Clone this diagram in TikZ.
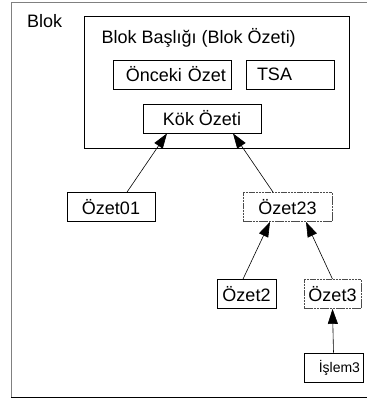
\documentclass[tikz,border=0pt]{standalone}
\usepackage{fontspec}
\setmainfont{Liberation Sans}
\usetikzlibrary{arrows.meta}

\tikzset{
  kutu/.style={draw, line width=0.8pt, minimum height=29pt, inner sep=0pt,
    font=\fontsize{18}{20}\selectfont},
  kesik/.style={kutu, draw=black!70, dash pattern=on 2.5pt off 0.7pt},
  yazi/.style={anchor=base west, inner sep=0pt, font=\fontsize{18}{20}\selectfont},
  ok/.style={-{Triangle[length=15pt,width=10pt]}, line width=0.6pt}
}

\begin{document}
\begin{tikzpicture}[x=1pt,y=-1pt]
    \useasboundingbox (0,0) rectangle (367,402);
    % dis cerceve
    \draw[black!50, line width=1pt] (11,397) -- (11,2) -- (370,2);
    \draw[line width=1pt] (11,397) -- (370,397);
    \node[yazi] (blok) at (27,27) {Blok};

    % blok basligi
    \node[kutu, minimum width=265pt, minimum height=132pt] (baslik) at (216.5,82) {};
    \node[yazi] (baslikyazi) at (101.5,43.5) {Blok Başlığı (Blok Özeti)};
    \node[kutu, minimum width=118pt, text width=108pt, align=right] (onceki) at (172,74.5) {Önceki Özet};
    \node[kutu, minimum width=88pt, text width=66pt, align=left] (tsa) at (290,74.5) {TSA};
    \node[kutu, minimum width=118pt] (kok) at (202,118.5) {Kök Özeti};

    % agac
    \node[kutu, minimum width=88pt] (ozet01) at (111,207) {Özet01};
    \node[kesik, minimum width=89pt] (ozet23) at (287.5,207) {Özet23};
    \node[kutu, minimum width=59pt] (ozet2) at (246.5,294) {Özet2};
    \node[kesik, minimum width=57pt] (ozet3) at (332.5,294) {Özet3};
    \node[kutu, minimum width=59pt, text width=53pt, align=right,
      font=\fontsize{14}{16}\selectfont] (islem3) at (333.5,367.5) {İşlem3};

    \draw[ok] ([xshift=16pt]ozet01.north) -- ([xshift=-35pt]kok.south);
    \draw[ok] ([xshift=-14.5pt]ozet23.north) -- ([xshift=31pt]kok.south);
    \draw[ok] ([xshift=-3.5pt]ozet2.north) -- ([xshift=-17.5pt]ozet23.south);
    \draw[ok] (ozet3.north) -- ([xshift=18.5pt]ozet23.south);
    \draw[ok] (islem3.north) -- (ozet3.south);
\end{tikzpicture}
\end{document}
